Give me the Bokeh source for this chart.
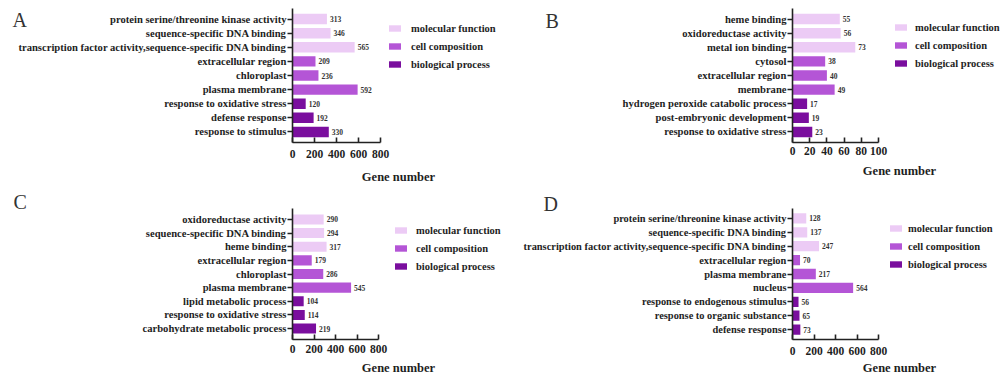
from bokeh.plotting import figure
from bokeh.models import (FactorRange, Range1d, FixedTicker, Legend, LegendItem,
                          ColumnDataSource, Label)
from bokeh.layouts import column, row
from bokeh.embed import file_html
from bokeh.resources import INLINE
from bokeh.core.properties import value

# ---------------- data ----------------
groups = ["molecular function", "cell composition", "biological process"]
group_colors = ["#ECCBF5", "#B455D6", "#7A0E9E"]

a_cats = ["protein serine/threonine kinase activity", "sequence-specific DNA binding",
          "transcription factor activity,sequence-specific DNA binding",
          "extracellular region", "chloroplast", "plasma membrane",
          "response to oxidative stress", "defense response", "response to stimulus"]
a_vals = [313, 346, 565, 209, 236, 592, 120, 192, 330]

b_cats = ["heme binding", "oxidoreductase activity", "metal ion binding",
          "cytosol", "extracellular region", "membrane",
          "hydrogen peroxide catabolic process", "post-embryonic development",
          "response to oxidative stress"]
b_vals = [55, 56, 73, 38, 40, 49, 17, 19, 23]

c_cats = ["oxidoreductase activity", "sequence-specific DNA binding", "heme binding",
          "extracellular region", "chloroplast", "plasma membrane",
          "lipid metabolic process", "response to oxidative stress",
          "carbohydrate metabolic process"]
c_vals = [290, 294, 317, 179, 286, 545, 104, 114, 219]

d_cats = ["protein serine/threonine kinase activity", "sequence-specific DNA binding",
          "transcription factor activity,sequence-specific DNA binding",
          "extracellular region", "plasma membrane", "nucleus",
          "response to endogenous stimulus", "response to organic substance",
          "defense response"]
d_vals = [128, 137, 247, 70, 217, 564, 56, 65, 73]

cat_groups = [0, 0, 0, 1, 1, 1, 2, 2, 2]

ticks_800 = [0, 200, 400, 600, 800]
ticks_100 = [0, 20, 40, 60, 80, 100]

panel_letters = ["A", "B", "C", "D"]

SERIF = "Liberation Serif"
TXT = "#1e1e1e"


def panel(letter, cats, vals, xmax, ticks, cfg):
    fw, fh, ftot = cfg["fw"], cfg["fh"], cfg["ftot"]
    unit = xmax / fw                      # data units per pixel on the value axis
    p = figure(
        y_range=FactorRange(*list(reversed(cats)), range_padding=cfg["pad"]),
        x_range=Range1d(0, ftot * unit),
        frame_width=ftot, frame_height=fh,
        min_border_left=cfg["left"], min_border_right=0,
        min_border_top=cfg["top"], min_border_bottom=cfg["bottom"],
        output_backend="svg", toolbar_location=None,
    )
    p.outline_line_color = None
    p.xgrid.grid_line_color = None
    p.ygrid.grid_line_color = None
    p.background_fill_color = "white"
    p.border_fill_color = "white"

    renderers = []
    for g in range(3):
        idx = [i for i, cg in enumerate(cat_groups) if cg == g]
        src = ColumnDataSource(dict(y=[cats[i] for i in idx],
                                    right=[vals[i] for i in idx],
                                    lab=[str(vals[i]) for i in idx]))
        r = p.hbar(y="y", right="right", left=0, height=0.74, source=src,
                   fill_color=group_colors[g], line_color=None)
        p.text(x="right", y="y", text="lab", source=src, x_offset=3,
               text_baseline="middle", text_align="left",
               text_font=value(SERIF), text_font_style="bold",
               text_font_size="7.5px", text_color="#333333")
        renderers.append(r)

    for ax in (p.xaxis[0], p.yaxis[0]):
        ax.axis_line_width = 1.6
        ax.axis_line_color = "#222222"
        ax.major_tick_line_width = 1.6
        ax.major_tick_line_color = "#222222"
        ax.minor_tick_line_color = None
        ax.major_label_text_font = SERIF
        ax.major_label_text_font_style = "bold"
        ax.major_label_text_color = TXT
    p.yaxis.major_tick_out = 5
    p.yaxis.major_tick_in = 0
    p.yaxis.major_label_standoff = 1
    p.yaxis.major_label_text_font_size = cfg["yfont"]
    p.xaxis.ticker = FixedTicker(ticks=ticks)
    p.xaxis.bounds = (0, xmax)
    p.xaxis.major_tick_in = 5
    p.xaxis.major_tick_out = 0
    p.xaxis.major_label_standoff = cfg["tick_std"]
    p.xaxis.major_label_text_font_size = "11.5px"
    p.xaxis.axis_label = "Gene number"
    p.xaxis.axis_label_text_font = SERIF
    p.xaxis.axis_label_text_font_style = "bold"
    p.xaxis.axis_label_text_font_size = "12.5px"
    p.xaxis.axis_label_text_color = TXT
    p.xaxis.axis_label_standoff = cfg["lab_std"]
    p.xaxis.axis_label_text_align = "right"

    label_h, spacing = 14, 4
    leg_h = 3 * label_h + 2 * spacing
    legend = Legend(
        items=[LegendItem(label=groups[g], renderers=[renderers[g]]) for g in range(3)],
        location=(fw + cfg["leg_dx"], fh - cfg["leg_top"] - leg_h),
        glyph_width=15, glyph_height=8, label_height=label_h, spacing=spacing,
        label_standoff=cfg["leg_std"], margin=0, padding=0,
        label_text_font=SERIF, label_text_font_style="bold",
        label_text_font_size="10.5px", label_text_color=TXT,
        border_line_color=None, background_fill_alpha=0,
    )
    p.add_layout(legend, "center")

    lab = Label(x=cfg["letter_dx"] * unit, y=fh - cfg["letter_base"],
                x_units="data", y_units="screen",
                text=letter, text_font=SERIF, text_font_size="20px",
                text_color="#333333", text_baseline="alphabetic",
                text_align="left")
    p.add_layout(lab, "left")
    return p


cfg_a = dict(left=292, fw=88, ftot=212, top=8, fh=134, bottom=45, pad=0.055,
             yfont="10.6px", tick_std=7, lab_std=9, leg_dx=7, leg_top=13, leg_std=9,
             letter_dx=12 - 292, letter_base=11)
cfg_b = dict(left=288, fw=86, ftot=214, top=2, fh=134, bottom=51, pad=0.055,
             yfont="10.6px", tick_std=4, lab_std=6, leg_dx=15, leg_top=12, leg_std=7,
             letter_dx=545 - 792, letter_base=12)
cfg_c = dict(left=292, fw=86, ftot=212, top=21, fh=131, bottom=38, pad=0.067,
             yfont="10.6px", tick_std=5, lab_std=5, leg_dx=15, leg_top=15, leg_std=8,
             letter_dx=13 - 292, letter_base=-7)
cfg_d = dict(left=288, fw=86, ftot=214, top=17, fh=131, bottom=42, pad=0.048,
             yfont="10.4px", tick_std=7, lab_std=3, leg_dx=10, leg_top=13, leg_std=5,
             letter_dx=543 - 792, letter_base=-5)

pa = panel(panel_letters[0], a_cats, a_vals, 800, ticks_800, cfg_a)
pb = panel(panel_letters[1], b_cats, b_vals, 100, ticks_100, cfg_b)
pc = panel(panel_letters[2], c_cats, c_vals, 800, ticks_800, cfg_c)
pd = panel(panel_letters[3], d_cats, d_vals, 800, ticks_800, cfg_d)

layout = column(row(pa, pb), row(pc, pd))

open("out.html", "w").write(file_html(layout, INLINE))
